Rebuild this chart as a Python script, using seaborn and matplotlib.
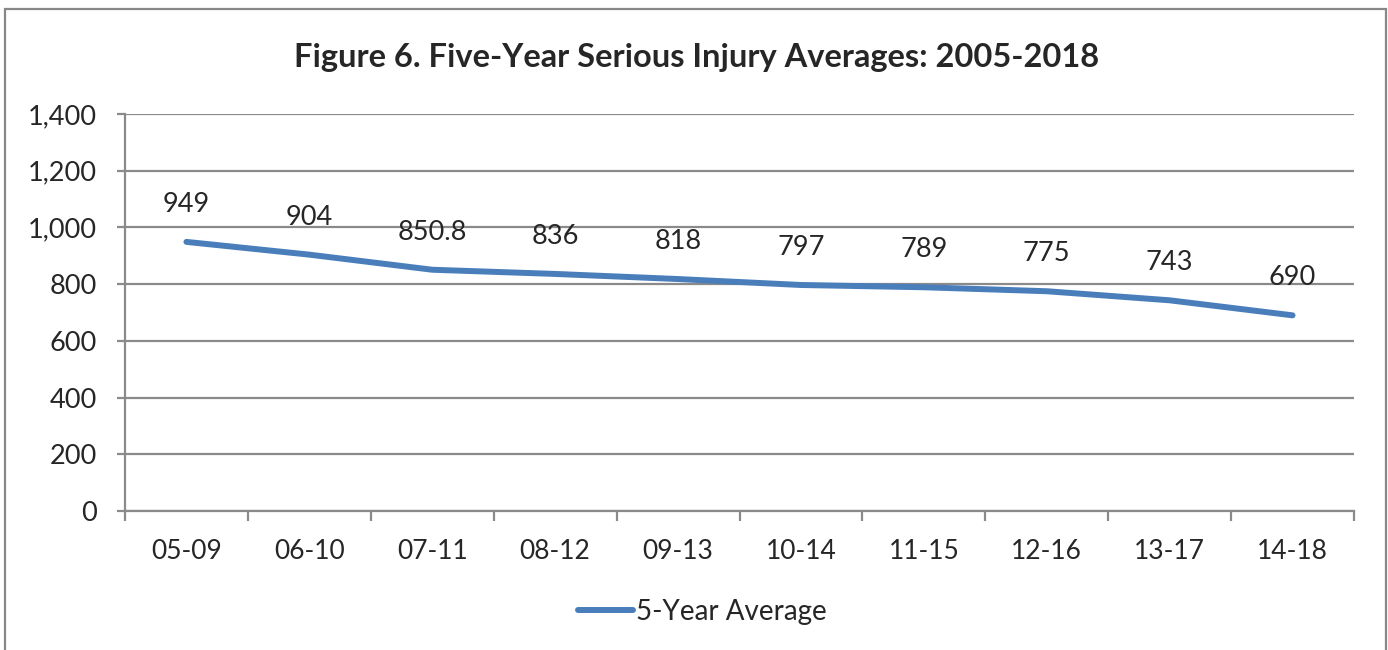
import matplotlib
matplotlib.use("Agg")
import matplotlib.pyplot as plt
import seaborn as sns
import pandas as pd
import numpy as np
from matplotlib.patches import Rectangle
from matplotlib.ticker import FixedLocator, FuncFormatter

periods = ["05-09", "06-10", "07-11", "08-12", "09-13", "10-14", "11-15", "12-16", "13-17", "14-18"]
averages = [949, 904, 850.8, 836, 818, 797, 789, 775, 743, 690]
value_labels = ["949", "904", "850.8", "836", "818", "797", "789", "775", "743", "690"]
y_ticks = [0, 200, 400, 600, 800, 1000, 1200, 1400]
title = "Figure 6. Five-Year Serious Injury Averages: 2005-2018"
series_name = "5-Year Average"

sns.set_theme(style="white")
plt.rcParams['font.family'] = ['Lato', 'DejaVu Sans']

text_color = "#262626"
grid_color = "#8a8a8a"
line_color = "#4a7ebb"

df = pd.DataFrame({"period": periods, "avg": averages, "pos": np.arange(len(periods))})

fig = plt.figure(figsize=(13.88, 6.5), dpi=100)
ax = fig.add_axes([125/1388, 1 - 511/650, (1354 - 125)/1388, (511 - 114)/650])

sns.lineplot(data=df, x="pos", y="avg", ax=ax, color=line_color, linewidth=4.3,
             label=series_name, solid_capstyle="round")

ax.set_xlim(-0.5, len(periods) - 0.5)
ax.set_ylim(0, 1400)
ax.set_yticks(y_ticks)
ax.yaxis.set_major_formatter(FuncFormatter(lambda v, p: f"{int(v):,}"))
ax.set_xticks(df["pos"])
ax.set_xticklabels(periods)
ax.xaxis.set_minor_locator(FixedLocator(np.arange(-0.5, len(periods), 1.0)))

ax.grid(axis="y", color=grid_color, linewidth=1.6)
ax.set_axisbelow(True)
for s in ["top", "right"]:
    ax.spines[s].set_visible(False)
for s in ["left", "bottom"]:
    ax.spines[s].set_color(grid_color)
    ax.spines[s].set_linewidth(1.6)

ax.tick_params(axis="y", which="major", left=True, length=6, width=1.6, color=grid_color,
               direction="out", pad=14, labelsize=19.5, labelcolor=text_color)
ax.tick_params(axis="x", which="major", bottom=False, length=0, pad=20, labelsize=19,
               labelcolor=text_color)
ax.tick_params(axis="x", which="minor", bottom=True, length=7, width=1.6, color=grid_color,
               direction="out")
ax.set_xlabel("")
ax.set_ylabel("")

for x, y, t in zip(df["pos"], df["avg"], value_labels):
    ax.annotate(t, (x, y), xytext=(0, 18), textcoords="offset points", ha="center",
                va="bottom", fontsize=19.5, color=text_color)

ax.legend_.remove()
handles, labels = ax.get_legend_handles_labels()
leg = fig.legend(handles, labels, loc="center", bbox_to_anchor=(0.506, 1 - 612/650),
                 frameon=False, fontsize=20, handlelength=2.0, handletextpad=0.1)
for t in leg.get_texts():
    t.set_color(text_color)

fig.text(697/1388, 1 - 57/650, title, ha="center", va="center", fontsize=23.5,
         fontweight="bold", color=text_color)

fig.patches.append(Rectangle((5/1388, -0.05), (1386 - 5)/1388, 1.05 - 9/650,
                             transform=fig.transFigure, fill=False,
                             edgecolor="#888888", linewidth=1.6))

fig.savefig("out.png", dpi=100)
